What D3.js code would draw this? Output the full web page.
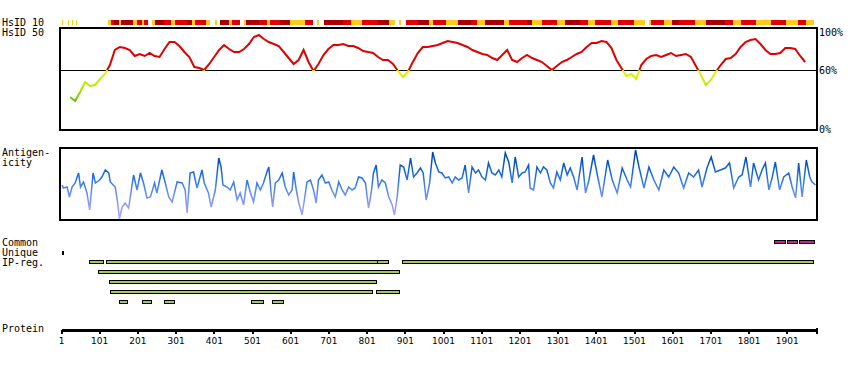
<!DOCTYPE html>
<html>
<head>
<meta charset="utf-8">
<script src="https://cdn.jsdelivr.net/npm/d3@7"></script>
<style>
  body { margin: 0; background: #fff; }
  .lbl { font-family: "DejaVu Sans Mono", monospace; font-size: 10px; }
  .tick text { font-family: "DejaVu Sans", sans-serif; font-size: 9px; }
</style>
</head>
<body>
<div id="chart"></div>
<script>
// protein length and axis ticks
var protLength = 1980;
var tickLabels = [1, 101, 201, 301, 401, 501, 601, 701, 801, 901, 1001, 1101, 1201, 1301, 1401, 1501, 1601, 1701, 1801, 1901];

// HsID 50 (% identity), one value every 13 residues starting at residue 25
var hsid50Start = 25, hsid50Step = 13;
var hsid50Values = [
  33, 29, 38, 48, 44, 45, 51, 56, 65, 80, 83, 82, 80, 74, 76, 74, 77, 74, 73, 81,
  88, 88, 84, 78, 73, 63, 62, 60, 66, 73, 80, 85, 81, 78, 78, 81, 86, 93, 95, 91,
  88, 86, 84, 78, 72, 66, 70, 80, 68, 59, 66, 75, 81, 85, 85, 86, 84, 84, 82, 79,
  78, 77, 73, 70, 70, 66, 59, 53, 58, 68, 77, 83, 83, 84, 85, 87, 89, 88, 87, 85,
  83, 80, 78, 76, 75, 72, 70, 75, 80, 70, 68, 72, 75, 72, 70, 68, 64, 60, 64, 68,
  70, 73, 76, 78, 83, 87, 87, 89, 88, 82, 70, 62, 54, 56, 51, 65, 71, 74, 75, 73,
  75, 77, 74, 75, 76, 73, 64, 55, 45, 50, 58, 65, 71, 72, 76, 83, 88, 90, 91, 86,
  80, 76, 76, 77, 82, 82, 81, 74, 68
];

// antigenicity profile: residue positions and scores
var antiPos = [
  4, 7, 17, 23, 30, 38, 47, 52, 60, 69, 76, 85, 91, 102, 108, 117, 126, 130, 143, 149,
  154, 161, 169, 178, 191, 200, 209, 217, 226, 235, 246, 252, 265, 274, 283, 292, 305, 318, 326, 331,
  339, 348, 357, 370, 376, 387, 394, 405, 414, 420, 425, 436, 444, 453, 462, 470, 479, 488, 497, 505,
  514, 523, 531, 540, 545, 551, 555, 562, 571, 580, 588, 597, 606, 610, 617, 623, 632, 638, 645, 654,
  662, 669, 675, 684, 693, 702, 710, 719, 728, 737, 745, 754, 763, 771, 780, 789, 798, 806, 813, 819,
  826, 832, 841, 850, 859, 868, 874, 881, 889, 898, 907, 916, 924, 933, 942, 949, 957, 966, 974, 981,
  990, 998, 1007, 1016, 1025, 1033, 1042, 1051, 1059, 1068, 1077, 1086, 1094, 1103, 1112, 1120, 1129, 1138, 1147, 1155,
  1164, 1173, 1182, 1190, 1199, 1208, 1216, 1225, 1229, 1238, 1247, 1256, 1264, 1273, 1282, 1290, 1299, 1308, 1317, 1326,
  1334, 1343, 1352, 1365, 1374, 1383, 1395, 1406, 1417, 1432, 1444, 1457, 1470, 1483, 1492, 1505, 1514, 1527, 1540, 1553,
  1566, 1579, 1592, 1605, 1618, 1631, 1644, 1657, 1670, 1679, 1692, 1703, 1714, 1727, 1740, 1751, 1762, 1775, 1784, 1794,
  1806, 1814, 1827, 1836, 1845, 1854, 1863, 1871, 1882, 1893, 1906, 1915, 1924, 1932, 1941, 1952, 1961, 1967, 1976
];
var antiValues = [
  35, 32, 33, 23, 33, 37, 47, 33, 38, 27, 10, 47, 37, 40, 43, 50, 47, 38, 33, 18,
  1, 13, 17, 12, 45, 30, 47, 37, 22, 23, 37, 27, 50, 37, 23, 18, 38, 37, 30, 7,
  47, 48, 32, 50, 37, 27, 13, 30, 62, 53, 35, 33, 30, 38, 20, 27, 15, 40, 27, 18,
  37, 30, 37, 48, 53, 27, 13, 37, 40, 47, 33, 25, 30, 48, 30, 18, 5, 20, 38, 40,
  30, 17, 40, 45, 37, 38, 30, 23, 38, 30, 25, 33, 30, 32, 43, 42, 37, 12, 27, 47,
  55, 33, 40, 37, 23, 15, 5, 23, 55, 53, 40, 62, 43, 47, 52, 47, 20, 37, 68, 57,
  48, 47, 42, 43, 37, 43, 40, 42, 55, 27, 53, 47, 50, 43, 40, 57, 47, 45, 50, 43,
  67, 58, 37, 63, 43, 47, 48, 55, 32, 30, 53, 47, 53, 50, 37, 32, 48, 40, 57, 45,
  52, 43, 30, 63, 27, 40, 65, 43, 23, 60, 40, 27, 52, 40, 33, 70, 53, 32, 53, 40,
  30, 50, 43, 53, 47, 32, 47, 43, 50, 33, 52, 63, 48, 50, 52, 57, 32, 43, 45, 63,
  33, 57, 40, 50, 57, 30, 43, 58, 30, 43, 47, 33, 22, 57, 23, 60, 43, 38, 35
];

// HsID 10 runs: [from, to, level]  level 1 = low, 2 = mid, 3 = high
var hsid10Runs = [
  [4, 6, 1], [20, 22, 1], [31, 33, 1], [41, 43, 1],
  [125, 132, 1], [132, 139, 2], [139, 152, 3], [152, 158, 1], [158, 190, 3], [190, 200, 1],
  [200, 212, 2], [212, 218, 1], [218, 228, 2], [238, 246, 1], [246, 270, 3], [270, 290, 2],
  [290, 300, 1], [300, 330, 2], [330, 345, 3], [345, 352, 1], [352, 380, 2], [380, 392, 1],
  [404, 410, 1], [418, 440, 3], [440, 448, 1], [448, 470, 2], [480, 486, 1], [486, 520, 3],
  [520, 540, 2], [540, 548, 1], [548, 575, 2], [575, 600, 3], [600, 640, 1], [640, 660, 2],
  [670, 676, 1], [690, 740, 3], [740, 760, 2], [760, 790, 1], [790, 830, 2], [830, 860, 3],
  [860, 875, 1], [885, 890, 1], [905, 935, 2], [935, 965, 3], [965, 975, 1], [975, 1010, 2],
  [1010, 1040, 1], [1040, 1075, 3], [1075, 1090, 2], [1090, 1110, 1], [1110, 1160, 3], [1160, 1175, 1],
  [1175, 1220, 2], [1220, 1235, 3], [1235, 1260, 1], [1260, 1300, 2], [1300, 1320, 1], [1320, 1360, 3],
  [1360, 1380, 2], [1380, 1400, 1], [1400, 1440, 2], [1440, 1460, 1], [1460, 1500, 2], [1500, 1530, 1],
  [1540, 1546, 1], [1546, 1580, 2], [1580, 1600, 1], [1600, 1620, 3], [1620, 1660, 2], [1660, 1690, 1],
  [1690, 1740, 3], [1740, 1760, 2], [1760, 1780, 1], [1780, 1820, 2], [1820, 1860, 1], [1860, 1900, 2],
  [1900, 1930, 1], [1930, 1950, 2], [1950, 1972, 1]
];

// features
var commonRegions = [[1868, 1897], [1902, 1929], [1934, 1973]];
var uniqueRegions = [[3, 6]];
var ipRows = [
  [[73, 112], [119, 828], [828, 857], [894, 1970]],
  [[97, 885]],
  [[126, 825]],
  [[128, 815], [825, 885]],
  [[154, 175], [212, 236], [270, 296], [499, 529], [554, 582]]
];

var width = 850, height = 370;
var svg = d3.select("#chart").append("svg")
  .attr("width", width).attr("height", height)
  .attr("shape-rendering", "crispEdges");

var x = d3.scaleLinear().domain([1, protLength]).range([61, 817]);

// left labels
var labels = [["HsID 10", 26], ["HsID 50", 36], ["Antigen-", 156], ["icity", 166],
  ["Common", 246], ["Unique", 256], ["IP-reg.", 266], ["Protein", 332]];
svg.selectAll("text.left").data(labels).enter().append("text")
  .attr("class", "lbl left")
  .attr("x", 2).attr("y", function(d) { return d[1]; })
  .text(function(d) { return d[0]; });

// HsID 10 bar
var hsColor = d3.scaleOrdinal().domain([1, 2, 3]).range(["#fccc1c", "#e00000", "#a80000"]);
svg.append("g").selectAll("rect").data(hsid10Runs).enter().append("rect")
  .attr("x", function(d) { return x(d[0]); })
  .attr("width", function(d) { return Math.max(1, x(d[1]) - x(d[0])); })
  .attr("y", 20).attr("height", 5)
  .attr("fill", function(d) { return hsColor(d[2]); });

// HsID 50 panel
var yH = d3.scaleLinear().domain([0, 100]).range([130, 30]);
var defs = svg.append("defs");
var gH = defs.append("linearGradient").attr("id", "gradH")
  .attr("gradientUnits", "userSpaceOnUse")
  .attr("x1", 0).attr("x2", 0).attr("y1", yH(100)).attr("y2", yH(0));
var hStops = [[100, "#e00000"], [60, "#e00000"], [59.9, "#f0f000"], [50, "#ccf000"], [40, "#a8e800"], [30, "#60c800"], [0, "#40a000"]];
gH.selectAll("stop").data(hStops).enter().append("stop")
  .attr("offset", function(d) { return (100 - d[0]) / 100; })
  .attr("stop-color", function(d) { return d[1]; });

svg.append("rect").attr("x", 60).attr("y", 28).attr("width", 757).attr("height", 102)
  .attr("fill", "none").attr("stroke", "#000").attr("stroke-width", 2);
svg.append("line").attr("x1", 60).attr("x2", 817).attr("y1", yH(60)).attr("y2", yH(60))
  .attr("stroke", "#000").attr("stroke-width", 1);

var hLine = d3.line()
  .x(function(d, i) { return x(hsid50Start + i * hsid50Step); })
  .y(function(d) { return yH(d); });
svg.append("path").datum(hsid50Values)
  .attr("d", hLine)
  .attr("fill", "none").attr("stroke", "url(#gradH)").attr("stroke-width", 2)
  .attr("shape-rendering", "auto");

var rightLabels = [["100%", 100, 36], ["60%", 60, 74], ["0%", 0, 133]];
svg.selectAll("text.right").data(rightLabels).enter().append("text")
  .attr("class", "lbl right")
  .attr("x", 819).attr("y", function(d) { return d[2]; })
  .text(function(d) { return d[0]; });

// antigenicity panel
var yA = d3.scaleLinear().domain([0, 72]).range([220, 148]);
var gA = defs.append("linearGradient").attr("id", "gradA")
  .attr("gradientUnits", "userSpaceOnUse")
  .attr("x1", 0).attr("x2", 0).attr("y1", yA(72)).attr("y2", yA(0));
var aStops = [[72, "#0040a8"], [60, "#0050c8"], [45, "#1a6ae8"], [32, "#4a84f8"], [15, "#8c98ff"], [0, "#b0a8ff"]];
gA.selectAll("stop").data(aStops).enter().append("stop")
  .attr("offset", function(d) { return (72 - d[0]) / 72; })
  .attr("stop-color", function(d) { return d[1]; });

svg.append("rect").attr("x", 60).attr("y", 148).attr("width", 757).attr("height", 72)
  .attr("fill", "none").attr("stroke", "#000").attr("stroke-width", 2);
var aLine = d3.line()
  .x(function(d, i) { return x(antiPos[i]); })
  .y(function(d) { return yA(d); });
svg.append("path").datum(antiValues)
  .attr("d", aLine)
  .attr("fill", "none").attr("stroke", "url(#gradA)").attr("stroke-width", 1.5)
  .attr("shape-rendering", "auto");

// common / unique
svg.append("g").selectAll("rect").data(commonRegions).enter().append("rect")
  .attr("x", function(d) { return x(d[0]); }).attr("width", function(d) { return x(d[1]) - x(d[0]); })
  .attr("y", 240.5).attr("height", 3)
  .attr("fill", "#c8209c").attr("stroke", "#000");
svg.append("g").selectAll("rect").data(uniqueRegions).enter().append("rect")
  .attr("x", function(d) { return x(d[0]); }).attr("width", function(d) { return Math.max(2, x(d[1]) - x(d[0])); })
  .attr("y", 251).attr("height", 4)
  .attr("fill", "#000");

// IP-reg rows
var yRow = d3.scalePoint().domain(d3.range(ipRows.length)).range([260.5, 300.5]);
ipRows.forEach(function(row, r) {
  svg.append("g").selectAll("rect").data(row).enter().append("rect")
    .attr("x", function(d) { return x(d[0]) + 0.5; })
    .attr("width", function(d) { return x(d[1]) - x(d[0]); })
    .attr("y", yRow(r)).attr("height", 3)
    .attr("fill", "#a4c85c").attr("stroke", "#000");
});

// protein axis
var axis = d3.axisBottom(x).tickValues(tickLabels).tickFormat(d3.format("d"))
  .tickSize(4).tickSizeOuter(0).tickPadding(4);
var gAx = svg.append("g").attr("transform", "translate(0,330)").call(axis);
gAx.select(".domain").attr("stroke-width", 3);
gAx.selectAll(".tick line").attr("stroke-width", 2);
gAx.selectAll(".tick text").attr("fill", "#000");
gAx.append("line").attr("x1", x(protLength)).attr("x2", x(protLength))
  .attr("y1", -2).attr("y2", 4).attr("stroke", "#000").attr("stroke-width", 2);
</script>
</body>
</html>
